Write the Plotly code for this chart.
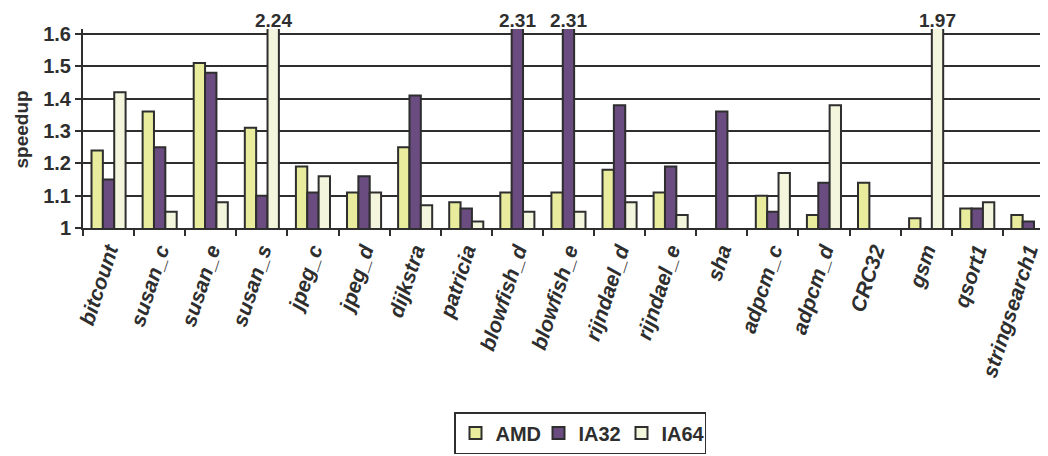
import plotly.graph_objects as go

categories = ["bitcount", "susan_c", "susan_e", "susan_s", "jpeg_c", "jpeg_d",
              "dijkstra", "patricia", "blowfish_d", "blowfish_e", "rijndael_d",
              "rijndael_e", "sha", "adpcm_c", "adpcm_d", "CRC32", "gsm", "qsort1",
              "stringsearch1"]
amd = [1.24, 1.36, 1.51, 1.31, 1.19, 1.11, 1.25, 1.08, 1.11, 1.11, 1.18, 1.11,
       None, 1.10, 1.04, 1.14, 1.03, 1.06, 1.04]
ia32 = [1.15, 1.25, 1.48, 1.10, 1.11, 1.16, 1.41, 1.06, 2.31, 2.31, 1.38, 1.19,
        1.36, 1.05, 1.14, None, None, 1.06, 1.02]
ia64 = [1.42, 1.05, 1.08, 2.24, 1.16, 1.11, 1.07, 1.02, 1.05, 1.05, 1.08, 1.04,
        None, 1.17, 1.38, None, 1.97, 1.08, None]
series_names = ["AMD", "IA32", "IA64"]
series_colors = ["#E8EC9C", "#6A4C80", "#F3F6DD"]
y_ticks = [1, 1.1, 1.2, 1.3, 1.4, 1.5, 1.6]
y_tick_labels = ["1", "1.1", "1.2", "1.3", "1.4", "1.5", "1.6"]
y_max_shown = 1.6

FONT = "Liberation Sans"
TXT = "#2E2E2E"

# the page body adds an 8px margin, so the figure is laid out 8px up/left
OFF = 8
W, H = 1048 - OFF, 456 - OFF
ml = 83 - OFF
mt = 29 - OFF
plot_bottom = 228 - OFF
mb = H - plot_bottom
plot_h = plot_bottom - mt
plot_w = W - ml
cat_px = 51.1
px_per_unit = (228 - 34) / 0.6
y_top = y_max_shown + (34 - 29) / px_per_unit
x_right = -0.5 + plot_w / cat_px

fig = go.Figure()
all_series = [amd, ia32, ia64]
for name, vals, col in zip(series_names, all_series, series_colors):
    fig.add_trace(go.Bar(
        x=categories, y=vals, name=name,
        marker=dict(color=col, line=dict(color=TXT, width=2)),
    ))

# labels for clipped bars
bargap = 0.333
bw = (1 - bargap) / 3
offsets = [-bw, 0, bw]
for si, vals in enumerate(all_series):
    for ci, v in enumerate(vals):
        if v is not None and v > y_max_shown:
            fig.add_annotation(
                x=ci + offsets[si], y=1 + mt / plot_h, yref="paper",
                text=f"{v:.2f}", showarrow=False, yanchor="top",
                font=dict(family=FONT, size=19, color=TXT, weight="bold"),
            )

# y-axis title (left edge kept inside the figure)
fig.add_annotation(
    x=-ml / plot_w, xref="paper", xanchor="left",
    y=0.5 + (128.5 - 130) / plot_h, yref="paper",
    text="speedup", textangle=-90, showarrow=False,
    font=dict(family=FONT, size=19, color=TXT, weight="bold"),
)

# grey top border at 1.6
fig.add_shape(type="line", xref="paper", x0=0, x1=1, yref="y",
              y0=y_max_shown, y1=y_max_shown, layer="between",
              line=dict(color="#8C8C8C", width=2))

fig.update_layout(
    width=W, height=H,
    margin=dict(l=ml, r=0, t=mt, b=mb, pad=0),
    paper_bgcolor="white", plot_bgcolor="white",
    barmode="group", bargap=bargap, bargroupgap=0,
    font=dict(family=FONT, color=TXT),
    showlegend=True,
    legend=dict(
        orientation="h", x=(580 - 83) / plot_w, xanchor="center",
        y=(228 - 433) / plot_h, yanchor="middle",
        bordercolor=TXT, borderwidth=1.5,
        font=dict(family=FONT, size=20, color=TXT, weight="bold"),
        itemwidth=30, traceorder="normal",
        entrywidth=38, entrywidthmode="pixels",
    ),
    xaxis=dict(
        type="category", range=[-0.5, x_right],
        showline=True, linecolor=TXT, linewidth=2,
        ticks="outside", ticklen=6, tickcolor=TXT, tickwidth=1.5,
        tickson="boundaries", tickangle=-72,
        tickfont=dict(family=FONT, size=21, color=TXT, weight="bold", style="italic"),
        showgrid=False, automargin=False,
    ),
    yaxis=dict(
        range=[1, y_top], tickvals=y_ticks, ticktext=y_tick_labels,
        showline=True, linecolor=TXT, linewidth=2,
        ticks="outside", ticklen=6, tickcolor=TXT, tickwidth=1.5,
        tickfont=dict(family=FONT, size=20, color=TXT, weight="bold"),
        showgrid=True, gridcolor=TXT, gridwidth=1.8,
        zeroline=False, automargin=False,
    ),
)

fig.write_html("out.html")
